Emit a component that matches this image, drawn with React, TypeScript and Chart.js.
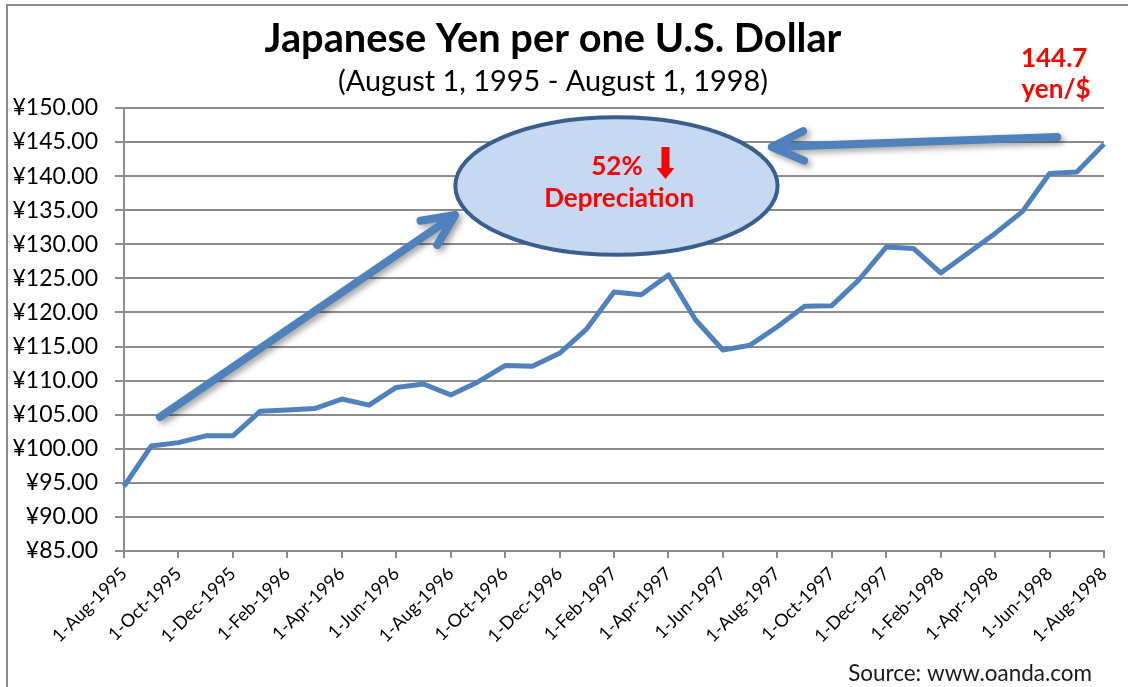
import React, { useEffect, useRef } from 'react';
import { Chart, registerables } from 'chart.js';

Chart.register(...registerables);

// ---------- data ----------
const dateLabels: string[] = [
  '1-Aug-1995', '1-Sep-1995', '1-Oct-1995', '1-Nov-1995', '1-Dec-1995',
  '1-Jan-1996', '1-Feb-1996', '1-Mar-1996', '1-Apr-1996', '1-May-1996', '1-Jun-1996',
  '1-Jul-1996', '1-Aug-1996', '1-Sep-1996', '1-Oct-1996', '1-Nov-1996', '1-Dec-1996',
  '1-Jan-1997', '1-Feb-1997', '1-Mar-1997', '1-Apr-1997', '1-May-1997', '1-Jun-1997',
  '1-Jul-1997', '1-Aug-1997', '1-Sep-1997', '1-Oct-1997', '1-Nov-1997', '1-Dec-1997',
  '1-Jan-1998', '1-Feb-1998', '1-Mar-1998', '1-Apr-1998', '1-May-1998', '1-Jun-1998',
  '1-Jul-1998', '1-Aug-1998',
];

const yenPerDollar: number[] = [
  94.5, 100.4, 100.9, 101.9, 101.9,
  105.5, 105.7, 105.9, 107.3, 106.4, 109.0,
  109.5, 107.9, 109.8, 112.2, 112.1, 114.0,
  117.6, 123.0, 122.6, 125.5, 118.9, 114.5,
  115.2, 117.9, 120.9, 121.0, 124.8, 129.6,
  129.4, 125.8, 128.7, 131.6, 134.8, 140.4,
  140.6, 144.7,
];

const yMin = 85;
const yMax = 150;
const yStep = 5;

const titleText = 'Japanese Yen per one U.S. Dollar';
const subtitleText = '(August 1, 1995 - August 1, 1998)';
const sourceText = 'Source: www.oanda.com';
const endValueText = '144.7';
const endUnitText = 'yen/$';
const pctText = '52%';
const depText = 'Depreciation';

// annotation anchors in data units (x = month index, y = yen)
const arrowUp = { from: [1.32, 104.66], to: [12.16, 134.3] };
const arrowLeft = { from: [34.28, 145.74], to: [23.8, 144.28] };
const bubble = { cx: 18.09, cy: 138.55, rx: 5.92, ry: 10.1 };
const redArrow = { x: 19.89, top: 144.28, bottom: 139.58 };
const pctPos = { x: 18.11, y: 140.17 };
const depPos = { x: 18.19, y: 135.47 };
const endValuePos = { x: 34.17, y: 156.02 };
const endUnitPos = { x: 34.24, y: 151.47 };

// ---------- styles ----------
const FONT = 'Lato, "Open Sans", sans-serif';
const gridColor = '#8c8c8c';
const lineColor = '#4f81bd';
const red = '#ff0000';

function fitSize(ctx: CanvasRenderingContext2D, text: string, weight: string, target: number) {
  const base = 40;
  ctx.font = `${weight} ${base}px ${FONT}`;
  const w = ctx.measureText(text).width;
  return (base * target) / w;
}

function drawArrow(ctx: CanvasRenderingContext2D, x1: number, y1: number, x2: number, y2: number) {
  const ang = Math.atan2(y1 - y2, x1 - x2);
  const len = 35;
  const spread = (25 * Math.PI) / 180;
  ctx.save();
  ctx.strokeStyle = lineColor;
  ctx.lineWidth = 8;
  ctx.lineCap = 'round';
  ctx.lineJoin = 'round';
  ctx.shadowColor = 'rgba(0,0,0,0.38)';
  ctx.shadowBlur = 6;
  ctx.shadowOffsetX = 3;
  ctx.shadowOffsetY = 3;
  ctx.beginPath();
  ctx.moveTo(x1, y1);
  ctx.lineTo(x2, y2);
  ctx.moveTo(x2 + len * Math.cos(ang + spread), y2 + len * Math.sin(ang + spread));
  ctx.lineTo(x2, y2);
  ctx.lineTo(x2 + len * Math.cos(ang - spread), y2 + len * Math.sin(ang - spread));
  ctx.stroke();
  ctx.restore();
}

const decorPlugin = {
  id: 'decor',
  beforeDraw(chart: any) {
    const ctx: CanvasRenderingContext2D = chart.ctx;
    ctx.save();
    ctx.fillStyle = '#ffffff';
    ctx.fillRect(0, 0, chart.width, chart.height);
    ctx.strokeStyle = gridColor;
    ctx.lineWidth = 2;
    ctx.strokeRect(7, 5, chart.width + 50, chart.height + 50);
    ctx.restore();
  },
  afterDraw(chart: any) {
    const ctx: CanvasRenderingContext2D = chart.ctx;
    const xs = chart.scales.x;
    const ys = chart.scales.y;
    const px = (v: number) => xs.getPixelForValue(v);
    const py = (v: number) => ys.getPixelForValue(v);

    ctx.save();
    // title + subtitle
    ctx.fillStyle = '#000';
    ctx.textAlign = 'center';
    ctx.textBaseline = 'alphabetic';
    let s = fitSize(ctx, titleText, 'bold', 577);
    ctx.font = `bold ${s}px ${FONT}`;
    ctx.fillText(titleText, 553, 52);
    s = fitSize(ctx, subtitleText, 'normal', 430);
    ctx.font = `normal ${s}px ${FONT}`;
    ctx.fillText(subtitleText, 553, 91);

    // source
    ctx.textAlign = 'right';
    s = fitSize(ctx, sourceText, 'normal', 244);
    ctx.font = `normal ${s}px ${FONT}`;
    ctx.fillStyle = '#1a1a1a';
    ctx.fillText(sourceText, 1092, 681);

    // ellipse
    const ecx = px(bubble.cx);
    const ecy = py(bubble.cy);
    const erx = px(bubble.cx + bubble.rx) - ecx;
    const ery = ecy - py(bubble.cy + bubble.ry);
    ctx.beginPath();
    ctx.ellipse(ecx, ecy, erx, ery, 0, 0, Math.PI * 2);
    ctx.fillStyle = '#c6d9f1';
    ctx.fill();
    ctx.lineWidth = 4;
    ctx.strokeStyle = '#3a5f8f';
    ctx.stroke();

    // red texts
    ctx.fillStyle = red;
    ctx.textAlign = 'center';
    const redSize = fitSize(ctx, depText, 'bold', 150);
    ctx.font = `bold ${redSize}px ${FONT}`;
    ctx.fillText(pctText, px(pctPos.x), py(pctPos.y));
    ctx.fillText(depText, px(depPos.x), py(depPos.y));
    ctx.fillText(endValueText, px(endValuePos.x), py(endValuePos.y));
    ctx.fillText(endUnitText, px(endUnitPos.x), py(endUnitPos.y));

    // red down arrow
    const ax = px(redArrow.x);
    const at = py(redArrow.top);
    const ab = py(redArrow.bottom);
    const headH = 11;
    ctx.beginPath();
    ctx.moveTo(ax - 4, at);
    ctx.lineTo(ax + 4, at);
    ctx.lineTo(ax + 4, ab - headH);
    ctx.lineTo(ax + 9, ab - headH);
    ctx.lineTo(ax, ab);
    ctx.lineTo(ax - 9, ab - headH);
    ctx.lineTo(ax - 4, ab - headH);
    ctx.closePath();
    ctx.fill();

    // blue arrows
    drawArrow(ctx, px(arrowUp.from[0]), py(arrowUp.from[1]), px(arrowUp.to[0]), py(arrowUp.to[1]));
    drawArrow(ctx, px(arrowLeft.from[0]), py(arrowLeft.from[1]), px(arrowLeft.to[0]), py(arrowLeft.to[1]));
    ctx.restore();
  },
};

export default function App() {
  const ref = useRef<HTMLCanvasElement | null>(null);

  useEffect(() => {
    document.body.style.margin = '0';
    if (!ref.current) return;
    const chart = new Chart(ref.current, {
      type: 'line',
      data: {
        labels: dateLabels,
        datasets: [
          {
            data: yenPerDollar,
            borderColor: lineColor,
            borderWidth: 5,
            pointRadius: 0,
            tension: 0,
            fill: false,
            borderJoinStyle: 'round',
          },
        ],
      },
      options: {
        animation: false,
        responsive: false,
        devicePixelRatio: 1,
        layout: { padding: { top: 108, right: 24, left: 0, bottom: 0 } },
        plugins: { legend: { display: false }, tooltip: { enabled: false }, title: { display: false } },
        scales: {
          x: {
            type: 'category',
            offset: false,
            grid: {
              display: true,
              drawOnChartArea: false,
              drawTicks: true,
              tickLength: 7,
              tickWidth: 2,
              tickColor: (c: any) => (c.index % 2 === 0 ? gridColor : 'rgba(0,0,0,0)'),
              color: gridColor,
              lineWidth: 2,
            },
            border: { display: true, color: gridColor, width: 2 },
            ticks: {
              autoSkip: false,
              minRotation: 45,
              maxRotation: 45,
              padding: 5,
              color: '#000',
              font: { family: FONT, size: 18 },
              callback: (_v: any, i: number) => (i % 2 === 0 ? dateLabels[i] : ''),
            },
            afterFit: (sc: any) => {
              sc.height = 136;
            },
          },
          y: {
            min: yMin,
            max: yMax,
            ticks: {
              stepSize: yStep,
              padding: 17,
              color: '#000',
              font: { family: FONT, size: 23 },
              callback: (v: any) => '¥' + Number(v).toFixed(2),
            },
            grid: { color: gridColor, lineWidth: 2, tickLength: 9, drawTicks: true },
            border: { display: true, color: gridColor, width: 2 },
            afterFit: (sc: any) => {
              sc.width = 124;
            },
          },
        },
      },
      plugins: [decorPlugin],
    } as any);
    const fonts: any = (document as any).fonts;
    if (fonts && fonts.ready) {
      fonts.ready.then(() => {
        try {
          chart.update();
        } catch (e) {}
      });
    }
    return () => {
      chart.destroy();
    };
  }, []);

  return (
    <div style={{ position: 'absolute', left: 0, top: 0, width: 1128, height: 687 }}>
      <canvas ref={ref} width={1128} height={687} style={{ display: 'block' }} />
    </div>
  );
}
